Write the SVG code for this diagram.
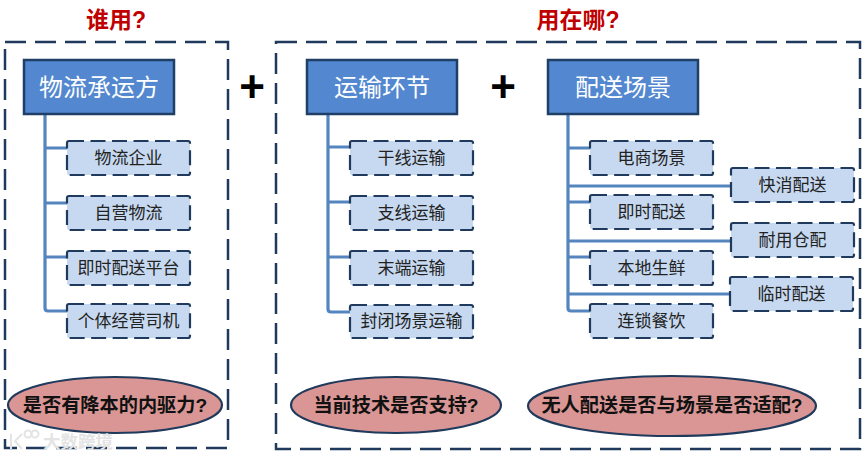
<svg xmlns="http://www.w3.org/2000/svg" width="865" height="458" viewBox="0 0 865 458">
<style>
text{font-family:"Liberation Sans","Noto Sans CJK SC",sans-serif;text-anchor:middle}
.frame{fill:none;stroke:#1f3a5c;stroke-width:2.5;stroke-dasharray:21 9}
.head rect{fill:#5388d0;stroke:#1f3f66;stroke-width:2.5}
.head text{font-size:24px;fill:#fff}
.item rect{fill:#c6d9f0;stroke:#1f3a5c;stroke-width:2.2;stroke-dasharray:15 6.5}
.item text{font-size:17px;fill:#222}
.ask ellipse{fill:#d99694;stroke:#1f3a5c;stroke-width:2.2}
.ask text{font-size:19.2px;font-weight:bold;fill:#111}
.title{font-size:23px;font-weight:bold;fill:#c00000}
.plus{font-size:44px;font-weight:bold;fill:#000}
#connectors path{fill:none;stroke:#5585bf;stroke-width:3.2}
.mark{font-size:17.5px;font-weight:bold;fill:#e4e4e4}
.logo{fill:none;stroke:#e4e4e4;stroke-width:2}
</style>
<rect width="865" height="458" fill="#fff"/>
<text class="title" x="116" y="28">谁用?</text>
<text class="title" x="578" y="28">用在哪?</text>
<rect id="frame-left" class="frame" x="5" y="42" width="223" height="406"/>
<rect id="frame-right" class="frame" x="276" y="42" width="584" height="407"/>
<text class="plus" x="252" y="102">+</text>
<text class="plus" x="503" y="102">+</text>
<g id="connectors">
<path d="M45 114V308Q45 311 48 311H67M45 148H67M45 203H67M45 257H67"/>
<path d="M328 114V309Q328 312 331 312H350M328 147H350M328 202H350M328 257H350"/>
<path d="M568 114V308Q568 311 571 311H590M568 148H590M568 186H731M568 202H590M568 241H731M568 257H590M568 294H730"/>
</g>
<g id="n1" class="head"><rect x="24" y="60" width="150" height="54"/><text x="99" y="96">物流承运方</text></g>
<g id="n2" class="head"><rect x="307" y="60" width="150" height="54"/><text x="382" y="96">运输环节</text></g>
<g id="n3" class="head"><rect x="548" y="60" width="150" height="54"/><text x="623" y="96">配送场景</text></g>
<g id="a1" class="item"><rect x="67" y="141" width="123" height="34" rx="2"/><text x="128.500" y="164">物流企业</text></g>
<g id="a2" class="item"><rect x="67" y="196" width="123" height="34" rx="2"/><text x="128.500" y="219">自营物流</text></g>
<g id="a3" class="item"><rect x="67" y="251" width="123" height="34" rx="2"/><text x="128.500" y="274">即时配送平台</text></g>
<g id="a4" class="item"><rect x="67" y="304" width="123" height="34" rx="2"/><text x="128.500" y="327">个体经营司机</text></g>
<g id="b1" class="item"><rect x="350" y="141" width="123" height="34" rx="2"/><text x="411.500" y="164">干线运输</text></g>
<g id="b2" class="item"><rect x="350" y="196" width="123" height="34" rx="2"/><text x="411.500" y="219">支线运输</text></g>
<g id="b3" class="item"><rect x="350" y="251" width="123" height="34" rx="2"/><text x="411.500" y="274">末端运输</text></g>
<g id="b4" class="item"><rect x="350" y="305" width="123" height="33" rx="2"/><text x="411.500" y="327">封闭场景运输</text></g>
<g id="c1" class="item"><rect x="590" y="141" width="123" height="34" rx="2"/><text x="651.500" y="164">电商场景</text></g>
<g id="c2" class="item"><rect x="590" y="195" width="123" height="34" rx="2"/><text x="651.500" y="218">即时配送</text></g>
<g id="c3" class="item"><rect x="590" y="251" width="123" height="34" rx="2"/><text x="651.500" y="274">本地生鲜</text></g>
<g id="c4" class="item"><rect x="590" y="304" width="123" height="34" rx="2"/><text x="651.500" y="327">连锁餐饮</text></g>
<g id="d1" class="item"><rect x="731" y="168" width="123" height="34" rx="2"/><text x="792.500" y="191">快消配送</text></g>
<g id="d2" class="item"><rect x="731" y="223" width="123" height="34" rx="2"/><text x="792.500" y="246">耐用仓配</text></g>
<g id="d3" class="item"><rect x="730" y="277" width="123" height="34" rx="2"/><text x="791.500" y="300">临时配送</text></g>
<g id="q1" class="ask"><ellipse cx="115" cy="405" rx="107" ry="28"/><text x="115" y="412">是否有降本的内驱力?</text></g>
<g id="q2" class="ask"><ellipse cx="396" cy="405" rx="105" ry="28"/><text x="396" y="412">当前技术是否支持?</text></g>
<g id="q3" class="ask"><ellipse cx="672" cy="406" rx="144" ry="30"/><text x="672" y="412">无人配送是否与场景是否适配?</text></g>
<g id="watermark"><path class="logo" d="M11 434V449M22 434L15 441L22 449"/><circle class="logo" cx="28" cy="434" r="3.5"/><circle class="logo" cx="35" cy="434" r="3.5"/><text class="mark" x="78" y="448">大数跨境</text></g>
</svg>
